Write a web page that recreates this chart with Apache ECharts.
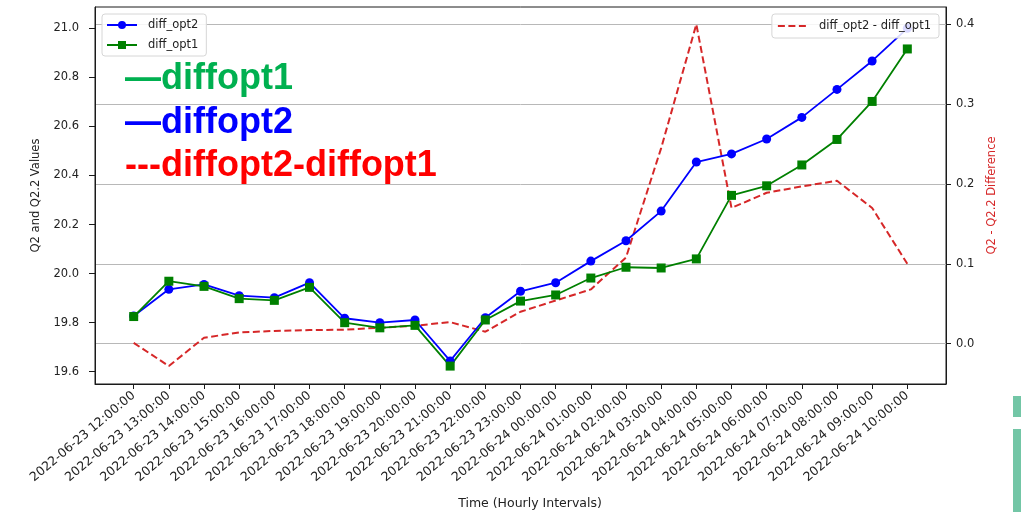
<!DOCTYPE html>
<html>
<head>
<meta charset="utf-8">
<script src="https://cdn.jsdelivr.net/npm/echarts@6/dist/echarts.min.js"></script>
<style>
html,body{margin:0;padding:0;background:#fff;}
#chart{width:1021px;height:512px;}
</style>
</head>
<body>
<div id="chart"></div>
<script>
// ---- data ----
const categories = [
  '2022-06-23 12:00:00','2022-06-23 13:00:00','2022-06-23 14:00:00','2022-06-23 15:00:00',
  '2022-06-23 16:00:00','2022-06-23 17:00:00','2022-06-23 18:00:00','2022-06-23 19:00:00',
  '2022-06-23 20:00:00','2022-06-23 21:00:00','2022-06-23 22:00:00','2022-06-23 23:00:00',
  '2022-06-24 00:00:00','2022-06-24 01:00:00','2022-06-24 02:00:00','2022-06-24 03:00:00',
  '2022-06-24 04:00:00','2022-06-24 05:00:00','2022-06-24 06:00:00','2022-06-24 07:00:00',
  '2022-06-24 08:00:00','2022-06-24 09:00:00','2022-06-24 10:00:00'
];
const diffOpt2 = [19.827, 19.936, 19.956, 19.910, 19.902, 19.963, 19.818, 19.800, 19.811, 19.644, 19.820, 19.928,
  19.963, 20.051, 20.134, 20.255, 20.455, 20.488, 20.549, 20.637, 20.751, 20.867, 21.000];
const diffOpt1 = [19.825, 19.969, 19.948, 19.898, 19.891, 19.944, 19.800, 19.779, 19.789, 19.623, 19.811, 19.888,
  19.913, 19.982, 20.026, 20.023, 20.060, 20.319, 20.358, 20.443, 20.547, 20.702, 20.916];
const diffValues = [0.001, -0.028, 0.0075, 0.014, 0.016, 0.017, 0.0175, 0.020, 0.0225, 0.027, 0.015, 0.040,
  0.054, 0.068, 0.108, 0.245, 0.400, 0.170, 0.189, 0.197, 0.204, 0.170, 0.100];
const leftTicks = [19.6, 19.8, 20.0, 20.2, 20.4, 20.6, 20.8, 21.0];
const rightTicks = [0.0, 0.1, 0.2, 0.3, 0.4];
const xTicks = categories.map((c, i) => i);

const pairs = arr => arr.map((v, i) => [i, v]);
const FONT = 'DejaVu Sans';

const chart = echarts.init(document.getElementById('chart'));
chart.setOption({
  animation: false,
  backgroundColor: '#ffffff',
  grid: {left: 95, right: 75, top: 7, bottom: 128, show: true, borderColor: '#1a1a1a', borderWidth: 1,
    containLabel: false, outerBoundsMode: 'none'},
  xAxis: {
    type: 'value', min: -1.1, max: 23.1,
    name: 'Time (Hourly Intervals)', nameLocation: 'middle', nameGap: 113,
    nameTextStyle: {fontFamily: FONT, fontSize: 12.5, color: '#222', padding: [0, 0, 0, 19]},
    axisLine: {show: true, onZero: false, lineStyle: {color: '#1a1a1a', width: 1}},
    axisTick: {show: true, length: 5, customValues: xTicks, lineStyle: {color: '#1a1a1a'}},
    axisLabel: {customValues: xTicks, rotate: 40, margin: 10, fontFamily: FONT, fontSize: 12.5, color: '#222',
      formatter: v => categories[Math.round(v)] || ''},
    splitLine: {show: false}
  },
  yAxis: [{
    type: 'value', min: 19.55, max: 21.087, position: 'left',
    name: 'Q2 and Q2.2 Values', nameLocation: 'middle', nameGap: 41, nameRotate: 90,
    nameTextStyle: {fontFamily: FONT, fontSize: 11.5, color: '#222'},
    axisLine: {show: true, onZero: false, lineStyle: {color: '#1a1a1a', width: 1}},
    axisTick: {show: true, length: 6, customValues: leftTicks, lineStyle: {color: '#1a1a1a'}},
    axisLabel: {customValues: leftTicks, margin: 16, fontFamily: FONT, fontSize: 11.5, color: '#222',
      formatter: v => v.toFixed(1)},
    splitLine: {show: false}
  }, {
    type: 'value', min: -0.0505, max: 0.4217, position: 'right',
    name: 'Q2 - Q2.2 Difference', nameLocation: 'middle', nameGap: 40, nameRotate: 90,
    nameTextStyle: {fontFamily: FONT, fontSize: 11.5, color: '#d62728'},
    axisLine: {show: true, onZero: false, lineStyle: {color: '#1a1a1a', width: 1}},
    axisTick: {show: true, length: 5, customValues: rightTicks, lineStyle: {color: '#1a1a1a'}},
    axisLabel: {customValues: rightTicks, margin: 10, fontFamily: FONT, fontSize: 11.5, color: '#222',
      formatter: v => v.toFixed(1)},
    splitLine: {show: true, lineStyle: {color: '#b8b8b8', width: 1}}
  }],
  legend: [{
    data: ['diff_opt2', 'diff_opt1'], orient: 'vertical', left: 102, top: 14,
    itemWidth: 30, itemHeight: 10, itemGap: 8, selectedMode: false,
    backgroundColor: 'rgba(255,255,255,0.85)', borderColor: '#d6d6d6', borderWidth: 1, borderRadius: 3,
    padding: [5, 8, 5, 4],
    textStyle: {fontFamily: FONT, fontSize: 11.5, color: '#222', padding: [0, 0, 0, 6]}
  }, {
    data: ['diff_opt2 - diff_opt1'], orient: 'horizontal', right: 82, top: 14,
    itemWidth: 30, itemHeight: 8, selectedMode: false,
    backgroundColor: 'rgba(255,255,255,0.85)', borderColor: '#d6d6d6', borderWidth: 1, borderRadius: 3,
    padding: [6, 8, 6, 5],
    itemStyle: {color: 'rgba(0,0,0,0)', borderColor: 'rgba(0,0,0,0)', borderWidth: 0},
    textStyle: {fontFamily: FONT, fontSize: 11.5, color: '#222', padding: [0, 0, 0, 6]}
  }],
  series: [{
    name: 'diff_opt2', type: 'line', yAxisIndex: 0, data: pairs(diffOpt2),
    symbol: 'circle', symbolSize: 9, color: '#0000ff',
    lineStyle: {width: 1.8, color: '#0000ff'}, itemStyle: {color: '#0000ff'}, z: 3
  }, {
    name: 'diff_opt1', type: 'line', yAxisIndex: 0, data: pairs(diffOpt1),
    symbol: 'rect', symbolSize: 9, color: '#008000',
    lineStyle: {width: 1.8, color: '#008000'}, itemStyle: {color: '#008000'}, z: 3
  }, {
    name: 'diff_opt2 - diff_opt1', type: 'line', yAxisIndex: 1, data: pairs(diffValues),
    symbol: 'none', showSymbol: false, color: '#d62728',
    lineStyle: {width: 2, color: '#d62728', type: [7, 3.5]}, z: 2
  }],
  graphic: [
    {type: 'text', left: 125, top: 61.5, style: {text: '\u2014diffopt1', fill: '#00b050', font: 'bold 36px "Liberation Sans", Arial, sans-serif'}},
    {type: 'text', left: 125, top: 105, style: {text: '\u2014diffopt2', fill: '#0000ff', font: 'bold 36px "Liberation Sans", Arial, sans-serif'}},
    {type: 'text', left: 125, top: 148.5, style: {text: '---diffopt2-diffopt1', fill: '#ff0000', font: 'bold 36px "Liberation Sans", Arial, sans-serif'}},
    {type: 'rect', shape: {x: 1013, y: 396, width: 8, height: 21}, style: {fill: '#73c6a6'}},
    {type: 'rect', shape: {x: 1013, y: 429, width: 8, height: 83}, style: {fill: '#73c6a6'}}
  ]
});
</script>
</body>
</html>
